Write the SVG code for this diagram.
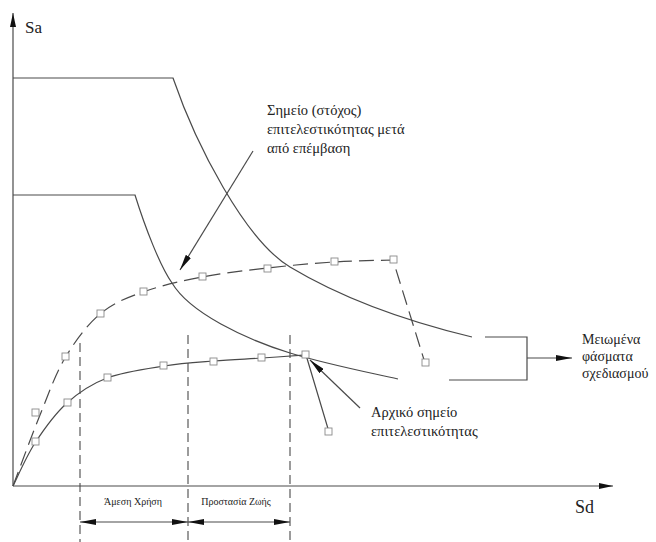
<svg xmlns="http://www.w3.org/2000/svg" width="656" height="542" viewBox="0 0 656 542">
  <style>
    .ln { fill: none; stroke: #4a4a4a; stroke-width: 1.2; }
    .dash { fill: none; stroke: #4a4a4a; stroke-width: 1.2; stroke-dasharray: 15 7; }
    .vdash { fill: none; stroke: #4a4a4a; stroke-width: 1.1; stroke-dasharray: 9 5; }
    .sq { fill: #ffffff; stroke: #8a8a8a; stroke-width: 0.9; }
  </style>
  <defs>
    <marker id="arr" viewBox="0 0 16 6" refX="16" refY="3" markerWidth="16" markerHeight="6" markerUnits="userSpaceOnUse" orient="auto-start-reverse">
      <path d="M0,0 L16,3 L0,6 Z" fill="#111111"/>
    </marker>
    <marker id="arrAx" viewBox="0 0 14 6" refX="14" refY="3" markerWidth="14" markerHeight="6" markerUnits="userSpaceOnUse" orient="auto">
      <path d="M0,0 L14,3 L0,6 Z" fill="#111111"/>
    </marker>
  </defs>

  <g id="axes">
    <line class="ln" x1="13" y1="486" x2="13" y2="13" marker-end="url(#arrAx)"/>
    <line class="ln" x1="13" y1="486" x2="613" y2="486" marker-end="url(#arrAx)"/>
    <text x="25" y="33" font-family="Liberation Serif, serif" font-size="17" fill="#222222">Sa</text>
    <text x="575" y="513" font-family="Liberation Serif, serif" font-size="18" fill="#222222">Sd</text>
  </g>

  <g id="spectrum-upper">
    <path class="ln" d="M13,78 L173,78 C196,145 245,240 290,267 C350,303 422,325 472,337"/>
  </g>

  <g id="spectrum-lower">
    <path class="ln" d="M13,195 L135,195 C145,227 160,266 172,283 C190,313 245,339 290,353 C326,364 362,371 398,379"/>
  </g>

  <g id="capacity-retrofit">
    <path class="dash" d="M13,486 C17.5,474.2 31.3,436.3 40,415 C48.7,393.7 55,374.8 65,358 C75,341.2 87,325 100,314 C113,303 126,298.2 143,292 C160,285.8 181.3,281 202,277 C222.7,273 245,270.5 267,268 C289,265.5 313,263.3 334,262 C355,260.7 383.2,260.3 393,260 L425,363"/>
    <rect class="sq" x="32" y="409" width="7" height="7"/>
    <rect class="sq" x="62" y="353" width="7" height="7"/>
    <rect class="sq" x="97" y="310" width="7" height="7"/>
    <rect class="sq" x="140" y="288" width="7" height="7"/>
    <rect class="sq" x="199" y="273" width="7" height="7"/>
    <rect class="sq" x="264" y="265" width="7" height="7"/>
    <rect class="sq" x="331" y="258" width="7" height="7"/>
    <rect class="sq" x="390" y="256" width="7" height="7"/>
    <rect class="sq" x="422" y="359" width="7" height="7"/>
  </g>

  <g id="capacity-initial">
    <path class="ln" d="M13,486 C16.7,478.8 26,456.8 35,443 C44,429.2 55,413.8 67,403 C79,392.2 90.8,384.2 107,378 C123.2,371.8 146.2,368.8 164,366 C181.8,363.2 197.7,362.3 214,361 C230.3,359.7 246.7,359 262,358 C277.3,357 298.7,355.5 306,355 L329,432"/>
    <rect class="sq" x="32" y="438" width="7" height="7"/>
    <rect class="sq" x="64" y="399" width="7" height="7"/>
    <rect class="sq" x="104" y="374" width="7" height="7"/>
    <rect class="sq" x="160" y="362" width="7" height="7"/>
    <rect class="sq" x="210" y="358" width="7" height="7"/>
    <rect class="sq" x="258" y="354" width="7" height="7"/>
    <rect class="sq" x="302" y="351" width="7" height="7"/>
    <rect class="sq" x="325" y="428" width="7" height="7"/>
  </g>

  <g id="performance-zones">
    <line class="vdash" x1="80" y1="343" x2="80" y2="542"/>
    <line class="vdash" x1="188" y1="335" x2="188" y2="542"/>
    <line class="vdash" x1="290" y1="335" x2="290" y2="542"/>
  </g>

  <g id="connectors">
    <line class="ln" x1="253" y1="151" x2="180" y2="270" marker-end="url(#arr)"/>
    <line class="ln" x1="360" y1="408" x2="310" y2="360" marker-end="url(#arr)"/>
    <polyline class="ln" points="485,337 527,337 527,380 449,380"/>
    <line class="ln" x1="527" y1="358" x2="572" y2="358" marker-end="url(#arr)"/>
    <line class="ln" x1="80" y1="522" x2="188" y2="522" marker-start="url(#arr)" marker-end="url(#arr)"/>
    <line class="ln" x1="188" y1="522" x2="290" y2="522" marker-start="url(#arr)" marker-end="url(#arr)"/>
  </g>

  <g id="label-target" font-family="Liberation Serif, serif" font-size="14.5" fill="#222222">
    <text x="267" y="115">Σημείο (στόχος)</text>
    <text x="267" y="134">επιτελεστικότητας μετά</text>
    <text x="267" y="153">από επέμβαση</text>
  </g>

  <g id="label-initial" font-family="Liberation Serif, serif" font-size="14.5" fill="#222222">
    <text x="371" y="417">Αρχικό σημείο</text>
    <text x="371" y="436">επιτελεστικότητας</text>
  </g>

  <g id="label-reduced" font-family="Liberation Serif, serif" font-size="14" fill="#222222">
    <text x="582" y="344">Μειωμένα</text>
    <text x="582" y="361">φάσματα</text>
    <text x="582" y="378">σχεδιασμού</text>
  </g>

  <g id="label-zones" font-family="Liberation Serif, serif" font-size="10" fill="#222222" text-anchor="middle">
    <text x="133" y="505">Άμεση Χρήση</text>
    <text x="236" y="505">Προστασία Ζωής</text>
  </g>
</svg>
